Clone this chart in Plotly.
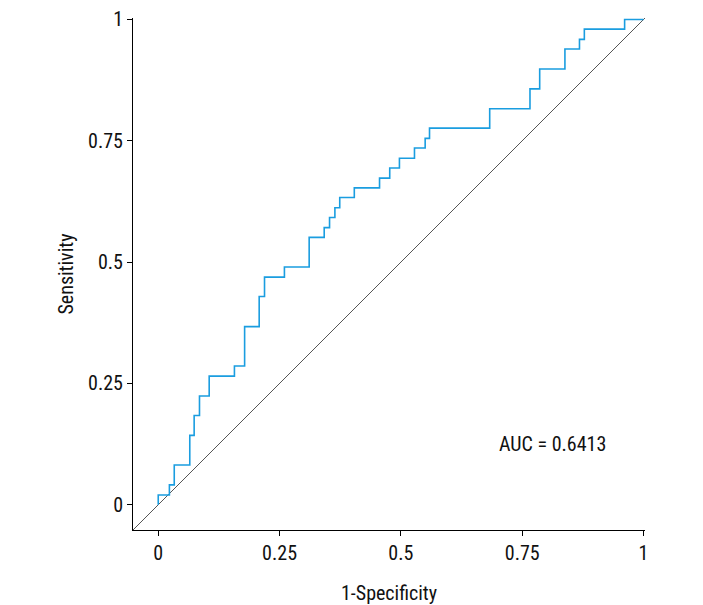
import plotly.graph_objects as go

fpr = [0, 0.023, 0.033, 0.065, 0.074, 0.085, 0.105, 0.157, 0.178, 0.208, 0.219, 0.260,
       0.311, 0.342, 0.353, 0.364, 0.374, 0.404, 0.456, 0.477, 0.497, 0.528, 0.550,
       0.559, 0.683, 0.766, 0.786, 0.838, 0.868, 0.878, 0.961, 1.0]
tpr = [0, 0.020, 0.041, 0.082, 0.143, 0.184, 0.224, 0.265, 0.286, 0.367, 0.429, 0.469,
       0.490, 0.551, 0.571, 0.592, 0.612, 0.633, 0.653, 0.673, 0.694, 0.714, 0.735,
       0.755, 0.776, 0.816, 0.857, 0.898, 0.939, 0.959, 0.980, 1.0]
ref_line = [-0.052, 1.003]
tick_vals = [0, 0.25, 0.5, 0.75, 1]
tick_text = ["0", "0.25", "0.5", "0.75", "1"]
auc_label = "AUC = 0.6413"

FONT = "Liberation Sans Narrow, Roboto Condensed, Arial Narrow, sans-serif"
FS = 20

fig = go.Figure()
fig.add_trace(go.Scatter(x=ref_line, y=ref_line, mode="lines",
                         line=dict(color="#555555", width=1), hoverinfo="skip"))
fig.add_trace(go.Scatter(x=fpr, y=tpr, mode="lines", line_shape="vh",
                         line=dict(color="#1a9de0", width=1.6)))
fig.add_annotation(x=0.812, y=0.126, text=auc_label, showarrow=False,
                   font=dict(size=FS, color="#111111", family=FONT))

axis_common = dict(range=ref_line, tickvals=tick_vals, ticktext=tick_text,
                   showgrid=False, zeroline=False, showline=True, linecolor="#000000",
                   linewidth=1, ticks="outside", ticklen=5, tickcolor="#000000",
                   automargin=False,
                   tickfont=dict(size=FS, color="#111111", family=FONT))
fig.update_layout(
    width=703, height=605,
    margin=dict(l=133, r=58, t=18, b=75),
    paper_bgcolor="white", plot_bgcolor="white",
    showlegend=False,
    xaxis=dict(**axis_common, title=dict(text="1-Specificity", standoff=22,
               font=dict(size=FS, color="#111111", family=FONT))),
    yaxis=dict(**axis_common, title=dict(text="Sensitivity", standoff=9,
               font=dict(size=FS, color="#111111", family=FONT))),
)
fig.write_html("out.html")
